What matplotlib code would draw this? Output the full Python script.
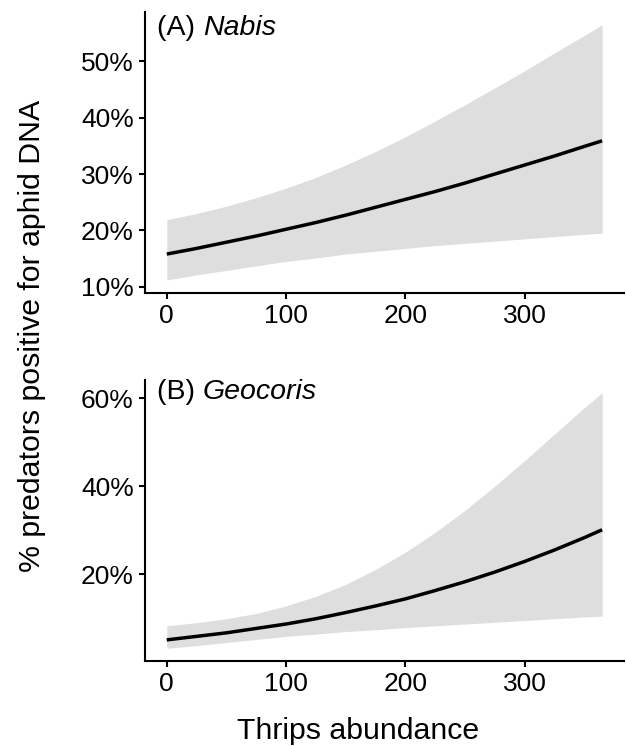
import matplotlib
matplotlib.use("Agg")
import matplotlib.pyplot as plt
from matplotlib.ticker import FuncFormatter

# ---------- DATA ----------
thrips = [0, 25, 50, 75, 100, 125, 150, 175, 200, 225, 250, 275, 300, 325, 350, 365]

nabis_fit = [15.8, 16.8, 17.9, 19.0, 20.2, 21.4, 22.7, 24.1, 25.5, 26.9, 28.4, 30.0, 31.6, 33.2, 34.9, 35.9]
nabis_lo = [11.2, 12.1, 12.9, 13.7, 14.5, 15.1, 15.8, 16.3, 16.8, 17.3, 17.7, 18.1, 18.5, 18.9, 19.3, 19.5]
nabis_hi = [21.9, 23.0, 24.3, 25.8, 27.5, 29.4, 31.6, 34.0, 36.6, 39.4, 42.3, 45.3, 48.3, 51.5, 54.6, 56.5]

geo_fit = [5.1, 5.9, 6.7, 7.7, 8.7, 9.9, 11.3, 12.8, 14.4, 16.3, 18.3, 20.5, 22.9, 25.5, 28.3, 30.1]
geo_lo = [3.2, 3.8, 4.5, 5.2, 5.9, 6.4, 7.0, 7.4, 7.9, 8.3, 8.7, 9.1, 9.5, 9.9, 10.3, 10.5]
geo_hi = [8.3, 9.0, 9.9, 11.1, 12.8, 15.0, 17.7, 21.1, 25.0, 29.5, 34.5, 40.0, 45.8, 51.8, 57.8, 61.2]

nabis_yticks = [10, 20, 30, 40, 50]
geo_yticks = [20, 40, 60]
x_ticks = [0, 100, 200, 300]
# ----------------------------------------------------

plt.rcParams["font.family"] = ["Liberation Sans", "DejaVu Sans"]

W, H = 626, 746
RIBBON = "#dedede"
TICK_FS = 19
TAG_FS = 20.5
TITLE_FS = 21.8
pct = FuncFormatter(lambda v, pos: f"{v:.0f}%")

fig = plt.figure(figsize=(W / 100, H / 100), dpi=100)
ax_a = fig.add_axes([0.2316, 0.6076, 0.765, 0.3763])
ax_b = fig.add_axes([0.2316, 0.1139, 0.765, 0.3767])

panels = [
    (ax_a, nabis_fit, nabis_lo, nabis_hi, nabis_yticks, "(A) ", "Nabis", 35),
    (ax_b, geo_fit, geo_lo, geo_hi, geo_yticks, "(B) ", "Geocoris", 399),
]

labels = []
for ax, fit, lo, hi, yt, tag, name, base_px in panels:
    ax.fill_between(thrips, lo, hi, color=RIBBON, linewidth=0)
    ax.plot(thrips, fit, color="black", linewidth=2.5, solid_capstyle="butt")

    # ggplot-like 5% expansion
    ymin, ymax = min(lo), max(hi)
    ypad = 0.05 * (ymax - ymin)
    ax.set_ylim(ymin - ypad, ymax + ypad)
    xpad = 0.05 * (thrips[-1] - thrips[0])
    ax.set_xlim(thrips[0] - xpad, thrips[-1] + xpad)

    ax.set_yticks(yt)
    ax.yaxis.set_major_formatter(pct)
    ax.set_xticks(x_ticks)

    for s in ["top", "right"]:
        ax.spines[s].set_visible(False)
    for s in ["left", "bottom"]:
        ax.spines[s].set_linewidth(1.5)
    ax.tick_params(axis="both", length=4.0, width=1.5, labelsize=TICK_FS, colors="black")
    ax.tick_params(axis="y", pad=4)
    ax.tick_params(axis="x", pad=4)

    # panel tag: plain "(A) " followed by italic species name on the same baseline
    yb = 1 - base_px / H
    t1 = fig.text(157 / W, yb, tag, ha="left", va="baseline", fontsize=TAG_FS)
    t2 = fig.text(157 / W, yb, name, ha="left", va="baseline", fontsize=TAG_FS, style="italic")
    labels.append((t1, t2, yb))

fig.canvas.draw()
r = fig.canvas.get_renderer()
for t1, t2, yb in labels:
    bb = t1.get_window_extent(renderer=r)
    t2.set_position((bb.x1 / fig.bbox.width, yb))

fig.text(358 / W, 1 - 731 / H, "Thrips abundance", ha="center", va="center", fontsize=TITLE_FS)
fig.text(32 / W, 1 - 336 / H, "% predators positive for aphid DNA", ha="center", va="center",
         rotation=90, fontsize=TITLE_FS)

fig.savefig("out.png", dpi=100)
